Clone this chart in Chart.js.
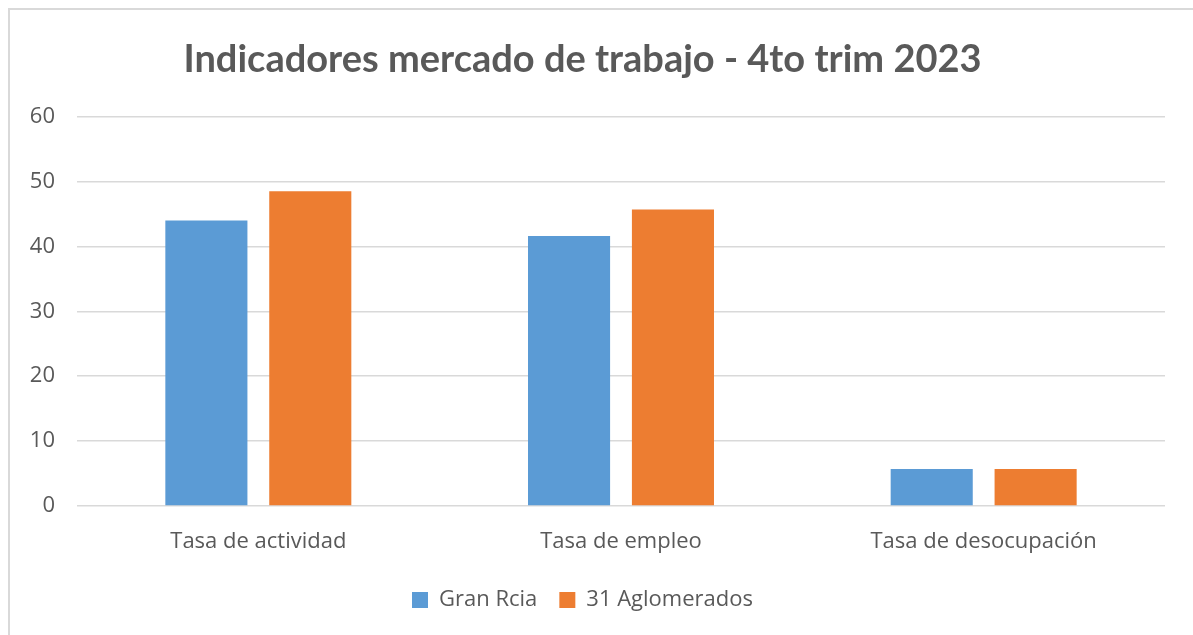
<!DOCTYPE html>
<html>
<head>
<meta charset="utf-8">
<script src="https://cdn.jsdelivr.net/npm/chart.js@4"></script>
<style>
  html, body { margin: 0; padding: 0; background: #fff; overflow: hidden; }
  #box { position: absolute; left: 8px; top: 8px; width: 1190px; height: 640px; border: 2px solid #d9d9d9; box-sizing: border-box; }
  #wrap { position: absolute; left: 0; top: 0; width: 1193px; height: 635px; }
</style>
</head>
<body>
<div id="box"></div>
<div id="wrap"><canvas id="myChart"></canvas></div>
<script>
var categories = ['Tasa de actividad', 'Tasa de empleo', 'Tasa de desocupación'];
var granRcia = [44.0, 41.6, 5.7];
var aglomerados = [48.5, 45.7, 5.7];
var seriesNames = ['Gran Rcia', '31 Aglomerados'];

var txt = '#595959';
var ctx = document.getElementById('myChart').getContext('2d');
var myChart = new Chart(ctx, {
    type: 'bar',
    data: {
        labels: categories,
        datasets: [{
            label: seriesNames[0],
            data: granRcia,
            backgroundColor: '#5b9bd5',
            barPercentage: 0.79,
            categoryPercentage: 0.573
        }, {
            label: seriesNames[1],
            data: aglomerados,
            backgroundColor: '#ed7d31',
            barPercentage: 0.79,
            categoryPercentage: 0.573
        }]
    },
    options: {
        responsive: true,
        maintainAspectRatio: false,
        animation: false,
        layout: { padding: { left: 0, right: 28, top: 29, bottom: 14 } },
        plugins: {
            title: {
                display: true,
                text: 'Indicadores mercado de trabajo - 4to trim 2023',
                color: txt,
                font: { family: 'Lato', size: 38, weight: 'bold' },
                padding: { top: 8, bottom: 34 }
            },
            legend: {
                position: 'bottom',
                labels: {
                    color: txt,
                    font: { family: 'Open Sans', size: 22 },
                    boxWidth: 16,
                    boxHeight: 16,
                    padding: 22
                }
            },
            tooltip: { enabled: false }
        },
        scales: {
            x: {
                grid: { display: false },
                border: { display: false },
                ticks: { color: txt, font: { family: 'Open Sans', size: 22 }, padding: 15 },
                afterFit: function (scale) { scale.height = 61; }
            },
            y: {
                min: 0,
                max: 60,
                ticks: { stepSize: 10, color: txt, font: { family: 'Open Sans', size: 22 }, padding: 22 },
                grid: { color: '#d9d9d9', lineWidth: 1.5, drawTicks: false },
                border: { display: false },
                afterFit: function (scale) { scale.width = 77; }
            }
        }
    }
});
</script>
</body>
</html>
